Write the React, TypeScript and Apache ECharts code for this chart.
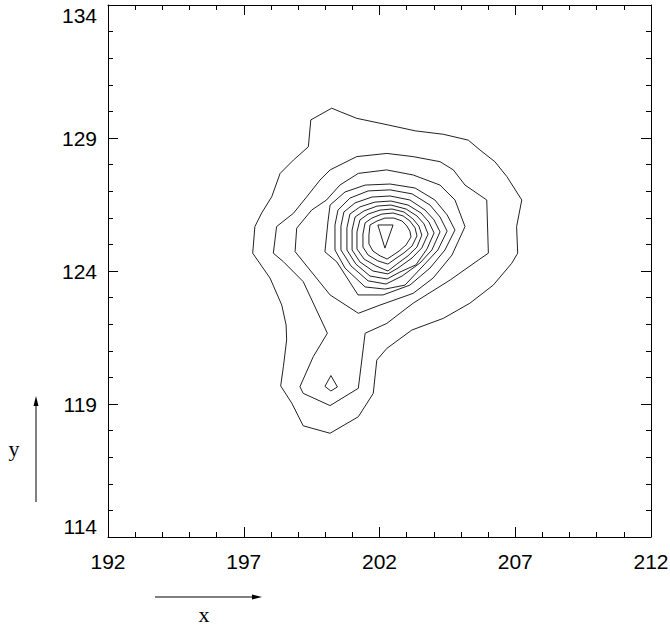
import React, { useEffect, useRef } from "react";
import * as echarts from "echarts";

// Axis ranges and tick step
const xRange = [192, 212];
const yRange = [114, 134];
const tickStep = 5;
const xAxisTitle = "x";
const yAxisTitle = "y";

// Contour lines, outermost to innermost, as [x, y] points (closed loops)
const contour1 = [
  [200.24, 130.12], [199.47, 129.68], [199.38, 128.67], [198.83, 128.17], [198.34, 127.67],
  [198.03, 126.79], [197.66, 126.18], [197.41, 125.67], [197.33, 124.67], [197.97, 123.73],
  [198.4, 122.72], [198.56, 121.97], [198.58, 121.41], [198.46, 120.4], [198.36, 119.68],
  [198.77, 119.03], [199.19, 118.18], [200.18, 117.9], [201.22, 118.52], [201.77, 119.4],
  [201.9, 120.65], [202.27, 121.09], [203.19, 121.78], [204.35, 122.22], [205.33, 122.79],
  [206.19, 123.47], [206.87, 124.29], [207.09, 124.67], [207.05, 125.67], [207.24, 126.67],
  [206.69, 127.55], [206.25, 128.11], [205.7, 128.55], [205.27, 128.92], [204.35, 129.14],
  [203.31, 129.27], [202.32, 129.49], [201.16, 129.74], [200.55, 129.99],
];
const contour2 = [
  [201.16, 128.3], [200.18, 127.8], [199.81, 127.42], [199.32, 126.79], [198.83, 126.17],
  [198.21, 125.67], [198.09, 124.67], [198.46, 124.35], [199.19, 123.6], [200.08, 121.66],
  [199.56, 120.78], [199.07, 119.65], [199.19, 119.4], [200.18, 118.94], [201.22, 119.59],
  [201.47, 121.66], [202.27, 122.03], [203.24, 122.79], [204.6, 123.66], [205.64, 124.41],
  [206.01, 124.67], [205.95, 126.67], [205.15, 127.23], [204.72, 127.8], [204.23, 128.11],
  [203.24, 128.3], [202.27, 128.42],
];
const contour3 = [
  [201.22, 127.67], [202.26, 127.8], [203.24, 127.61], [204.23, 127.23], [204.78, 126.67],
  [205.15, 125.67], [204.67, 124.6], [203.98, 123.74], [203.24, 123.16], [202.02, 122.72],
  [201.22, 122.41], [200.18, 123.1], [198.89, 124.73], [198.95, 125.61], [199.5, 126.29],
  [200.05, 126.67], [200.54, 127.23],
];
const smallPeak = [
  [200.21, 120.07], [200.45, 119.64], [200.21, 119.49], [199.99, 119.66],
];
const contour4 = [
  [200.18, 126.48], [200.73, 126.97], [201.47, 127.23], [202.39, 127.27], [203.31, 127.12],
  [204.04, 126.67], [204.49, 126.11], [204.78, 125.54], [204.41, 124.79], [203.86, 124.11],
  [203.12, 123.47], [202.13, 123.1], [201.21, 123.1], [200.43, 124.34], [199.99, 124.72],
  [200.1, 125.84],
];
const contour5 = [
  [200.47, 126.29], [200.91, 126.74], [201.58, 127.01], [202.39, 127.05], [203.2, 126.9],
  [203.86, 126.48], [204.23, 126.03], [204.49, 125.5], [204.15, 124.79], [203.64, 124.23],
  [202.94, 123.47], [202.2, 123.32], [201.47, 123.4], [200.73, 124.11], [200.36, 124.79],
  [200.36, 125.73],
];
const contour6 = [
  [200.69, 126.22], [201.1, 126.56], [201.72, 126.78], [202.39, 126.82], [203.12, 126.67],
  [203.68, 126.29], [204.01, 125.92], [204.23, 125.47], [203.93, 124.79], [203.49, 124.3],
  [202.83, 123.81], [202.24, 123.51], [201.58, 123.63], [200.95, 124.19], [200.58, 124.79],
  [200.58, 125.69],
];
const contour7 = [
  [200.91, 126.14], [201.28, 126.41], [201.83, 126.59], [202.42, 126.63], [203.05, 126.48],
  [203.53, 126.18], [203.82, 125.84], [204.01, 125.43], [203.75, 124.83], [203.34, 124.23],
  [202.75, 123.96], [202.28, 123.7], [201.65, 123.81], [201.13, 124.26], [200.8, 124.79],
  [200.8, 125.62],
];
const contour8 = [
  [201.1, 126.03], [201.43, 126.26], [201.91, 126.44], [202.42, 126.48], [202.98, 126.33],
  [203.38, 126.07], [203.64, 125.77], [203.79, 125.39], [203.56, 124.87], [203.2, 124.49],
  [202.68, 124.11], [202.31, 123.89], [201.76, 124.0], [201.28, 124.34], [200.99, 124.79],
  [200.99, 125.54],
];
const contour9 = [
  [201.28, 125.92], [201.58, 126.14], [202.02, 126.29], [202.46, 126.33], [202.9, 126.22],
  [203.23, 125.96], [203.45, 125.69], [203.56, 125.35], [203.38, 124.9], [203.05, 124.57],
  [202.64, 124.26], [202.31, 124.0], [201.87, 124.19], [201.43, 124.45], [201.17, 124.83],
  [201.17, 125.47],
];
const contour10 = [
  [201.47, 125.81], [201.72, 125.99], [202.09, 126.14], [202.5, 126.18], [202.87, 126.07],
  [203.12, 125.88], [203.31, 125.62], [203.38, 125.32], [203.2, 124.94], [202.9, 124.68],
  [202.57, 124.45], [202.31, 124.26], [201.94, 124.38], [201.58, 124.6], [201.39, 124.9],
  [201.39, 125.39],
];
const contour11 = [
  [201.65, 125.73], [201.91, 125.88], [202.2, 125.99], [202.53, 125.99], [202.83, 125.88],
  [203.01, 125.69], [203.12, 125.5], [203.16, 125.28], [202.98, 124.98], [202.72, 124.75],
  [202.46, 124.57], [202.28, 124.45], [202.02, 124.57], [201.76, 124.75], [201.61, 125.02],
  [201.61, 125.35],
];
const contour12 = [
  [201.94, 125.73], [202.5, 125.73], [202.2, 124.86],
];

const contourList = [
  contour1, contour2, contour3, smallPeak, contour4, contour5, contour6,
  contour7, contour8, contour9, contour10, contour11, contour12,
];

const labelFont = "'Liberation Sans', Arial, sans-serif";

export default function App() {
  const ref = useRef<HTMLDivElement>(null);

  useEffect(() => {
    if (!ref.current) return;
    const chart = echarts.init(ref.current, null, { renderer: "svg" });

    const baseAxis = (pos: string, showLabel: boolean, isX: boolean) => ({
      type: "value",
      position: pos,
      min: isX ? xRange[0] : yRange[0],
      max: isX ? xRange[1] : yRange[1],
      interval: tickStep,
      axisLine: { show: true, onZero: false, lineStyle: { color: "#000", width: 1 } },
      axisTick: { show: true, inside: true, length: 10, lineStyle: { color: "#000", width: 1 } },
      minorTick: { show: true, splitNumber: 5, length: 5, lineStyle: { color: "#000", width: 1 } },
      splitLine: { show: false },
      minorSplitLine: { show: false },
      axisLabel: showLabel
        ? {
            show: true,
            color: "#000",
            fontSize: 21,
            fontFamily: labelFont,
            margin: isX ? 14 : 11,
            showMinLabel: true,
            showMaxLabel: true,
            hideOverlap: false,
            ...(isX ? {} : { verticalAlignMaxLabel: "top", verticalAlignMinLabel: "bottom" }),
          }
        : { show: false },
    });

    chart.setOption({
      animation: false,
      backgroundColor: "#fff",
      grid: {
        left: 108,
        right: 19,
        top: 5,
        bottom: 93,
        containLabel: false,
        outerBoundsMode: "none",
      },
      xAxis: [baseAxis("bottom", true, true), baseAxis("top", false, true)],
      yAxis: [baseAxis("left", true, false), baseAxis("right", false, false)],
      series: contourList.map((pts, i) => ({
        type: "line",
        name: "contour" + (i + 1),
        xAxisIndex: 0,
        yAxisIndex: 0,
        data: [...pts, pts[0]],
        symbol: "none",
        showSymbol: false,
        smooth: false,
        clip: true,
        lineStyle: { color: "#222", width: 1 },
        emphasis: { disabled: true },
      })),
      graphic: [
        {
          type: "text",
          x: 14,
          y: 448,
          style: {
            text: yAxisTitle,
            font: "22px 'Liberation Serif', 'Times New Roman', serif",
            fill: "#000",
            align: "center",
            verticalAlign: "middle",
          },
        },
        {
          type: "line",
          shape: { x1: 36, y1: 502, x2: 36, y2: 404 },
          style: { stroke: "#000", lineWidth: 1 },
        },
        {
          type: "polygon",
          shape: { points: [[36, 396], [33.5, 406], [38.5, 406]] },
          style: { fill: "#000" },
        },
        {
          type: "text",
          x: 204,
          y: 614,
          style: {
            text: xAxisTitle,
            font: "22px 'Liberation Serif', 'Times New Roman', serif",
            fill: "#000",
            align: "center",
            verticalAlign: "middle",
          },
        },
        {
          type: "line",
          shape: { x1: 155, y1: 597, x2: 254, y2: 597 },
          style: { stroke: "#000", lineWidth: 1 },
        },
        {
          type: "polygon",
          shape: { points: [[262, 597], [252, 594.5], [252, 599.5]] },
          style: { fill: "#000" },
        },
      ],
    });

    return () => chart.dispose();
  }, []);

  return (
    <div
      ref={ref}
      style={{ position: "fixed", left: 0, top: 0, width: 670, height: 630, background: "#fff" }}
    />
  );
}
